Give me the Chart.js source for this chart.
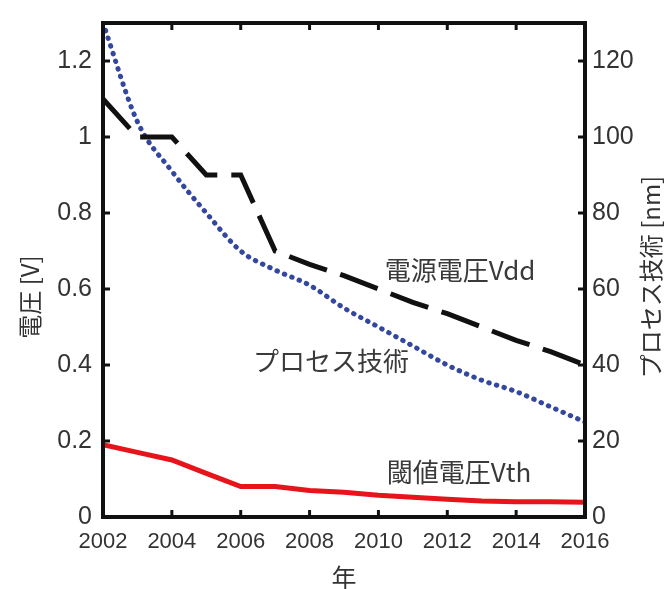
<!DOCTYPE html>
<html>
<head>
<meta charset="utf-8">
<script src="https://cdn.jsdelivr.net/npm/chart.js@4.4.1/dist/chart.umd.min.js"></script>
<style>
  html, body { margin: 0; padding: 0; background: #fff; }
  #wrap { width: 665px; height: 589px; }
</style>
</head>
<body>
<div id="wrap"><canvas id="c" width="665" height="589"></canvas></div>
<script>
// ---- data ----
const years = [2002, 2003, 2004, 2005, 2006, 2007, 2008, 2009, 2010, 2011, 2012, 2013, 2014, 2015, 2016];
const vdd = [1.10, 1.00, 1.00, 0.90, 0.90, 0.70, 0.665, 0.635, 0.60, 0.565, 0.535, 0.50, 0.465, 0.435, 0.40];
const processNm = [130, 104, 91, 80, 70, 65, 61, 55, 50, 45, 40, 36, 33, 29, 25];
const vth = [0.19, 0.17, 0.15, 0.115, 0.08, 0.08, 0.07, 0.065, 0.057, 0.052, 0.047, 0.042, 0.040, 0.040, 0.039];

const xTicks = [2002, 2004, 2006, 2008, 2010, 2012, 2014, 2016];
const voltTicks = [0, 0.2, 0.4, 0.6, 0.8, 1, 1.2];
const nmTicks = [0, 20, 40, 60, 80, 100, 120];

const seriesNames = ['電源電圧Vdd', 'プロセス技術', '閾値電圧Vth'];
const titleLeft = '電圧 [V]';
const titleRight = 'プロセス技術 [nm]';
const titleBottom = '年';

// ---- layout / style (not data) ----
const notePos = [
  { x: 2012.37, y: 0.650 },
  { x: 2008.62, y: 0.410 },
  { x: 2012.34, y: 0.118 }
];
const TICK_FONT = '"Liberation Sans", Arial, sans-serif';
const CJK_FONT = '"Noto Sans CJK JP", "Noto Sans", sans-serif';
const TEXT_COLOR = '#333';

const toPts = (arr) => years.map((yr, i) => ({ x: yr, y: arr[i] }));

const framePlugin = {
  id: 'frame',
  afterDatasetsDraw(chart) {
    const { ctx, chartArea: a, scales } = chart;
    ctx.save();
    ctx.strokeStyle = '#111';
    ctx.lineWidth = 4;
    ctx.strokeRect(a.left, a.top, a.right - a.left, a.bottom - a.top);
    ctx.lineWidth = 3;
    const ln = (x1, y1, x2, y2) => { ctx.beginPath(); ctx.moveTo(x1, y1); ctx.lineTo(x2, y2); ctx.stroke(); };
    const TL = 7;
    xTicks.forEach(v => {
      const px = scales.x.getPixelForValue(v);
      ln(px, a.bottom, px, a.bottom - TL);
      ln(px, a.top, px, a.top + TL);
    });
    voltTicks.forEach(v => {
      const py = scales.y.getPixelForValue(v);
      ln(a.left, py, a.left + TL, py);
    });
    nmTicks.forEach(v => {
      const py = scales.y2.getPixelForValue(v);
      ln(a.right, py, a.right - TL, py);
    });

    // in-plot series labels
    ctx.fillStyle = '#3a3a3a';
    ctx.font = '26px ' + CJK_FONT;
    ctx.textAlign = 'center';
    ctx.textBaseline = 'middle';
    seriesNames.forEach((t, i) => {
      ctx.fillText(t, scales.x.getPixelForValue(notePos[i].x), scales.y.getPixelForValue(notePos[i].y));
    });

    // axis titles
    ctx.fillStyle = TEXT_COLOR;
    ctx.font = '24px ' + CJK_FONT;
    ctx.save();
    ctx.translate(a.left - 73, (a.top + a.bottom) / 2 + 27);
    ctx.rotate(-Math.PI / 2);
    ctx.fillText(titleLeft, 0, 0);
    ctx.restore();
    ctx.save();
    ctx.translate(a.right + 66, (a.top + a.bottom) / 2 + 7);
    ctx.rotate(-Math.PI / 2);
    ctx.fillText(titleRight, 0, 0);
    ctx.restore();
    ctx.font = '25px ' + CJK_FONT;
    ctx.fillText(titleBottom, (a.left + a.right) / 2, a.bottom + 60);
    ctx.restore();
  }
};

const tickFontY = { family: TICK_FONT, size: 25, lineHeight: 0.96 };
const tickFontX = { family: TICK_FONT, size: 22, lineHeight: 1.2 };

new Chart(document.getElementById('c'), {
  type: 'line',
  data: {
    datasets: [
      {
        label: seriesNames[0], data: toPts(vdd), yAxisID: 'y',
        borderColor: '#111', borderWidth: 5, borderDash: [40, 14],
        pointRadius: 0, tension: 0, fill: false
      },
      {
        label: seriesNames[1], data: toPts(processNm), yAxisID: 'y2',
        borderColor: '#34479f', borderWidth: 5, borderDash: [0.5, 7.5], borderCapStyle: 'round',
        pointRadius: 0, cubicInterpolationMode: 'monotone', fill: false
      },
      {
        label: seriesNames[2], data: toPts(vth), yAxisID: 'y',
        borderColor: '#e8141b', borderWidth: 5,
        pointRadius: 0, tension: 0, fill: false
      }
    ]
  },
  options: {
    responsive: false,
    animation: false,
    devicePixelRatio: 1,
    layout: { padding: { top: 12, left: 0, right: 0, bottom: 0 } },
    plugins: { legend: { display: false }, tooltip: { enabled: false } },
    scales: {
      x: {
        type: 'linear', min: 2002, max: 2016,
        afterBuildTicks: s => { s.ticks = xTicks.map(v => ({ value: v })); },
        afterFit: s => { s.height = 72; },
        grid: { display: false, drawTicks: false },
        border: { display: false },
        ticks: { padding: 12, font: tickFontX, color: TEXT_COLOR, maxRotation: 0, autoSkip: false, callback: v => String(v) }
      },
      y: {
        position: 'left', min: 0, max: 1.3,
        afterBuildTicks: s => { s.ticks = voltTicks.map(v => ({ value: v })); },
        afterFit: s => { s.width = 103; },
        grid: { display: false, drawTicks: false },
        border: { display: false },
        ticks: { padding: 11, font: tickFontY, color: TEXT_COLOR, callback: v => String(v) }
      },
      y2: {
        position: 'right', min: 0, max: 130,
        afterBuildTicks: s => { s.ticks = nmTicks.map(v => ({ value: v })); },
        afterFit: s => { s.width = 80; },
        grid: { display: false, drawTicks: false },
        border: { display: false },
        ticks: { padding: 7, font: tickFontY, color: TEXT_COLOR, callback: v => String(v) }
      }
    }
  },
  plugins: [framePlugin]
});
</script>
</body>
</html>
